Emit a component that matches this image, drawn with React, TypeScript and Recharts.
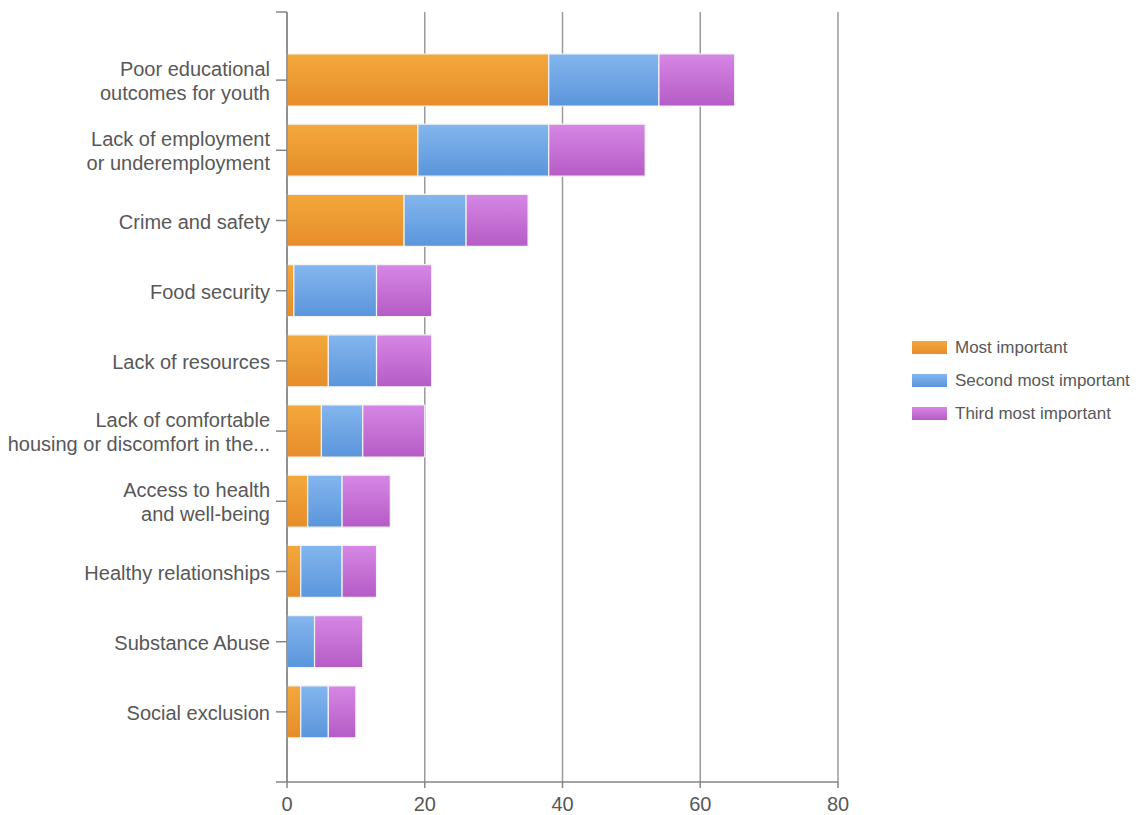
import { BarChart, Bar, XAxis, YAxis, CartesianGrid, useOffset } from "recharts";

const CATEGORIES = [
  "Poor educational\noutcomes for youth",
  "Lack of employment\nor underemployment",
  "Crime and safety",
  "Food security",
  "Lack of resources",
  "Lack of comfortable\nhousing or discomfort in the...",
  "Access to health\nand well-being",
  "Healthy relationships",
  "Substance Abuse",
  "Social exclusion",
];

const MOST_IMPORTANT = [38, 19, 17, 1, 6, 5, 3, 2, 0, 2];
const SECOND_MOST = [16, 19, 9, 12, 7, 6, 5, 6, 4, 4];
const THIRD_MOST = [11, 14, 9, 8, 8, 9, 7, 5, 7, 4];

const X_TICKS = [0, 20, 40, 60, 80];

const SERIES = [
  { key: "most", name: "Most important", top: "#f3a83c", bottom: "#e68d2a" },
  { key: "second", name: "Second most important", top: "#84b6ee", bottom: "#5a95db" },
  { key: "third", name: "Third most important", top: "#d687e4", bottom: "#b55bc6" },
];

const AXIS_COLOR = "#858585";
const GRID_COLOR = "#9a9a9a";
const TEXT_COLOR = "#585858";
const FONT = '"Liberation Sans", Arial, sans-serif';

const data = CATEGORIES.map((name, i) => ({
  name,
  most: MOST_IMPORTANT[i],
  second: SECOND_MOST[i],
  third: THIRD_MOST[i],
}));

function CategoryTick({ x, y, payload }: any) {
  const lines = String(payload?.value ?? "").split("\n");
  const lineH = 24;
  const start = y - ((lines.length - 1) * lineH) / 2;
  return (
    <text
      x={x}
      y={start}
      textAnchor="end"
      fill={TEXT_COLOR}
      fontSize={20}
      fontFamily={FONT}
    >
      {lines.map((l, i) => (
        <tspan key={i} x={x} y={start + i * lineH} dy="0.4em">
          {l}
        </tspan>
      ))}
    </text>
  );
}

// small end marks at top and bottom of the category axis
function AxisEnds() {
  const off = useOffset();
  if (!off) return null;
  const x = off.left;
  const top = off.top;
  const bottom = off.top + (815 - off.top - off.bottom);
  return (
    <g>
      <line x1={x - 11} x2={x} y1={top} y2={top} stroke={AXIS_COLOR} strokeWidth={1.5} />
      <line x1={x - 11} x2={x} y1={bottom} y2={bottom} stroke={AXIS_COLOR} strokeWidth={1.5} />
    </g>
  );
}

function LegendBox() {
  return (
    <div
      style={{
        position: "absolute",
        left: 912,
        top: 331,
        fontFamily: FONT,
        fontSize: 17,
        color: TEXT_COLOR,
      }}
    >
      {SERIES.map((s) => (
        <div
          key={s.key}
          style={{ display: "flex", alignItems: "center", height: 33 }}
        >
          <span
            style={{
              display: "inline-block",
              width: 35,
              height: 13,
              background: `linear-gradient(${s.top}, ${s.bottom})`,
              marginRight: 8,
            }}
          />
          <span>{s.name}</span>
        </div>
      ))}
    </div>
  );
}

export default function App() {
  return (
    <div style={{ position: "relative", width: 1140, height: 815, background: "#fff" }}>
      <style>{"body{margin:0}"}</style>
      <BarChart
        width={1140}
        height={815}
        data={data}
        layout="vertical"
        margin={{ top: 12, right: 302, bottom: 0, left: 0 }}
        barSize={52}
      >
        <defs>
          {SERIES.map((s) => (
            <linearGradient key={s.key} id={`grad-${s.key}`} x1="0" y1="0" x2="0" y2="1">
              <stop offset="0%" stopColor={s.top} />
              <stop offset="100%" stopColor={s.bottom} />
            </linearGradient>
          ))}
        </defs>
        <CartesianGrid horizontal={false} stroke={GRID_COLOR} strokeWidth={1.5} />
        <XAxis
          type="number"
          domain={[0, 80]}
          ticks={X_TICKS}
          height={33}
          tickSize={6}
          tickMargin={9}
          axisLine={{ stroke: AXIS_COLOR, strokeWidth: 1.5 }}
          tickLine={{ stroke: AXIS_COLOR, strokeWidth: 1.5 }}
          tick={{ fill: TEXT_COLOR, fontSize: 20, fontFamily: FONT }}
        />
        <YAxis
          type="category"
          dataKey="name"
          width={287}
          padding={{ top: 33, bottom: 35 }}
          tickSize={11}
          tickMargin={6}
          interval={0}
          axisLine={{ stroke: AXIS_COLOR, strokeWidth: 1.5 }}
          tickLine={{ stroke: AXIS_COLOR, strokeWidth: 1.5 }}
          tick={<CategoryTick />}
        />
        {SERIES.map((s) => (
          <Bar
            key={s.key}
            dataKey={s.key}
            name={s.name}
            stackId="a"
            fill={`url(#grad-${s.key})`}
            stroke="#f2f2f2"
            strokeWidth={1.2}
            isAnimationActive={false}
          />
        ))}
        <AxisEnds />
      </BarChart>
      <LegendBox />
    </div>
  );
}
